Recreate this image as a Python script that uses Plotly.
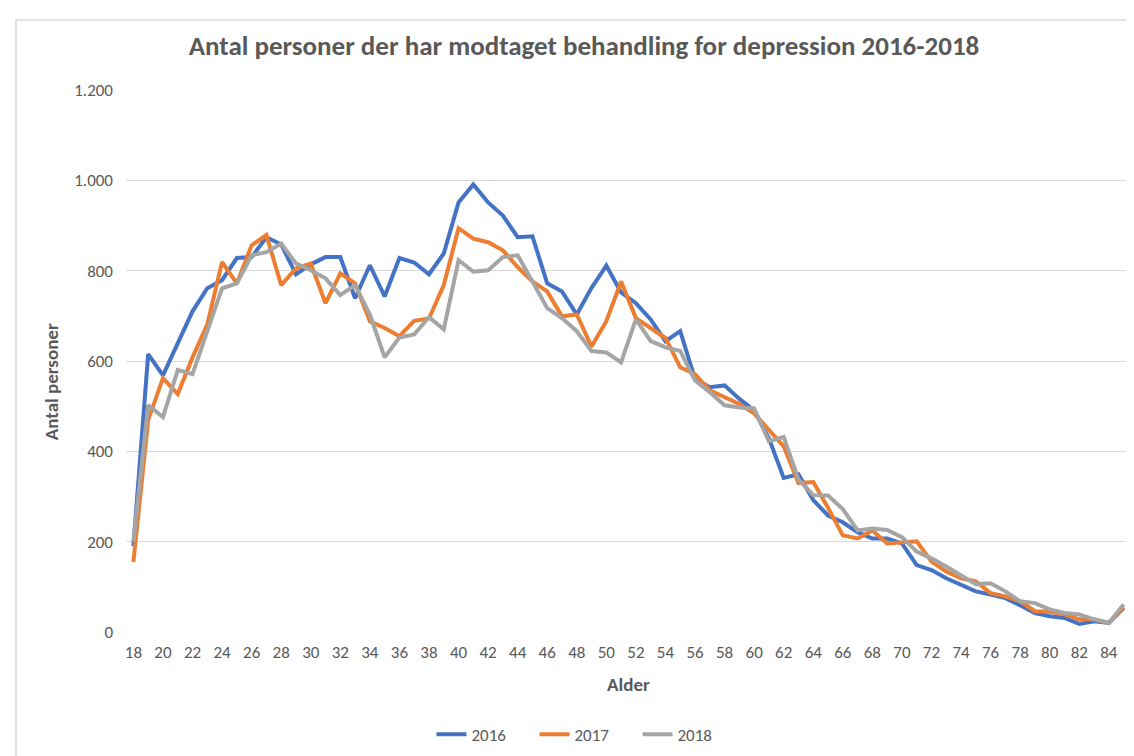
import plotly.graph_objects as go

ages = list(range(18, 86))
tick_ages = list(range(18, 86, 2))
y_ticks = [0, 200, 400, 600, 800, 1000, 1200]

v2016 = [190, 615, 568, 638, 710, 761, 779, 828, 830, 874, 858, 792, 814, 830, 830, 739,
         812, 743, 828, 818, 792, 838, 951, 991, 951, 922, 874, 876, 772, 754, 703, 762,
         811, 752, 728, 692, 644, 666, 560, 542, 546, 516, 491, 429, 341, 349, 292, 258,
         243, 221, 207, 207, 196, 148, 137, 119, 104, 90, 83, 75, 59, 42, 35, 31, 18, 24,
         20, 53]
v2017 = [155, 469, 562, 527, 608, 681, 819, 772, 856, 879, 768, 805, 816, 728, 794, 772,
         688, 673, 655, 689, 694, 768, 894, 871, 863, 845, 808, 776, 754, 699, 703, 632,
         688, 776, 695, 673, 651, 586, 571, 535, 520, 505, 484, 447, 411, 330, 332, 275,
         214, 207, 225, 196, 199, 201, 156, 134, 119, 112, 86, 79, 68, 46, 45, 39, 28, 28,
         20, 55]
v2018 = [200, 502, 476, 580, 571, 666, 761, 772, 834, 841, 860, 816, 801, 783, 746, 768,
         703, 608, 652, 659, 697, 670, 823, 798, 801, 830, 834, 776, 717, 695, 666, 622,
         619, 597, 692, 644, 630, 622, 557, 531, 502, 497, 495, 422, 432, 338, 303, 302,
         272, 225, 229, 226, 210, 178, 163, 145, 126, 106, 108, 90, 68, 64, 50, 42, 39, 28,
         20, 61]

series = [("2016", v2016, "#4472C4"), ("2017", v2017, "#ED7D31"), ("2018", v2018, "#A5A5A5")]

FONT = "Carlito, 'Liberation Sans Narrow', 'Open Sans', sans-serif"
GREY = "#595959"

fig = go.Figure()
for name, vals, col in series:
    fig.add_trace(go.Scatter(x=ages, y=vals, name=name, mode="lines",
                             line=dict(color=col, width=4)))

L, R, T, B = 118, 1123, 82, 631
W, H = R - L, B - T

fig.update_layout(
    width=1134, height=756,
    margin=dict(l=L, r=1134 - R, t=T, b=756 - B),
    paper_bgcolor="white", plot_bgcolor="white",
    separators=",.",
    font=dict(family=FONT, color=GREY, size=17),
    title=dict(text="<b>Antal personer der har modtaget behandling for depression 2016-2018</b>",
               font=dict(size=27, color=GREY, family=FONT),
               x=576 / 1134, xanchor="center", xref="container",
               y=1 - 38 / 756, yanchor="middle", yref="container"),
    xaxis=dict(range=[17.5, 85.5], tickmode="array", tickvals=tick_ages,
               ticktext=[str(a) for a in tick_ages], showgrid=False, zeroline=False,
               showline=False, ticks="", ticklabelstandoff=8,
               tickfont=dict(size=17, color=GREY, family=FONT)),
    yaxis=dict(range=[0, 1200], tickmode="array", tickvals=y_ticks, tickformat=",d",
               showgrid=True, gridcolor="#D9D9D9", gridwidth=1, zeroline=False,
               showline=False, ticks="", ticklabelstandoff=12,
               tickfont=dict(size=17, color=GREY, family=FONT)),
    legend=dict(orientation="h", x=(578 - L) / W, xanchor="center",
                y=(B - 735) / H, yanchor="middle",
                font=dict(size=17, color=GREY, family=FONT), itemwidth=30,
                entrywidth=58, entrywidthmode="pixels"),
    showlegend=True,
    annotations=[
        dict(text="<b>Antal personer</b>", xref="paper", yref="paper", x=(43 - L) / W,
             y=(B - 378) / H, xanchor="center", yanchor="middle", showarrow=False,
             textangle=-90, font=dict(size=19, color=GREY, family=FONT)),
        dict(text="<b>Alder</b>", xref="paper", yref="paper", x=(620 - L) / W,
             y=(B - 684) / H, xanchor="center", yanchor="middle", showarrow=False,
             font=dict(size=19, color=GREY, family=FONT)),
    ],
    shapes=[dict(type="rect", xref="paper", yref="paper",
                 x0=(8 - L) / W, x1=(1250 - L) / W, y0=(B - 800) / H, y1=(B - 11) / H,
                 line=dict(color="#D9D9D9", width=1.5), fillcolor="rgba(0,0,0,0)",
                 layer="below")],
)

fig.write_html("out.html")
